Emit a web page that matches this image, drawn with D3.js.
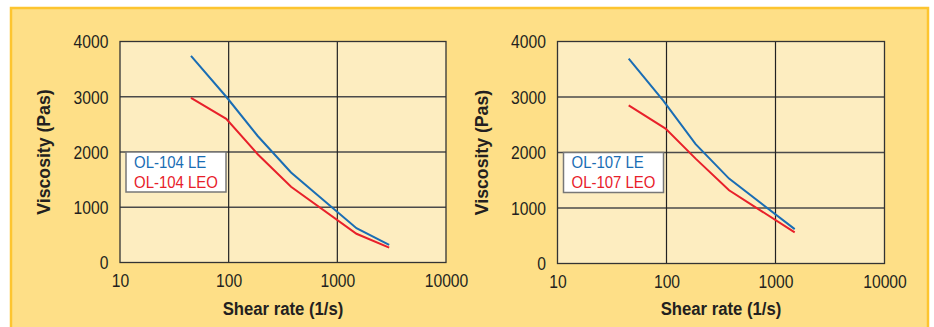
<!DOCTYPE html>
<html>
<head>
<meta charset="utf-8">
<script src="https://cdn.jsdelivr.net/npm/d3@7"></script>
<style>
  body { margin: 0; background: #fff; }
  svg text { font-family: "Liberation Sans", Arial, sans-serif; fill: #231f20; }
</style>
</head>
<body>
<div id="chart"></div>
<script>
// shear rate ticks and viscosity ticks
const xTicks = [10, 100, 1000, 10000];
const yTicks = [0, 1000, 2000, 3000, 4000];

// OL-104 (left panel): [shear rate, viscosity]
const ol104LE  = [[45, 3740], [95, 3000], [185, 2290], [375, 1630], [1500, 620], [3000, 320]];
const ol104LEO = [[45, 2980], [95, 2600], [185, 1960], [375, 1370], [1500, 520], [3000, 270]];

// OL-107 (right panel)
const ol107LE  = [[45, 3690], [93, 2940], [185, 2150], [375, 1530], [1500, 620]];
const ol107LEO = [[45, 2850], [98, 2430], [185, 1890], [375, 1320], [1500, 560]];

// the original type is a condensed face, squeeze the sans a bit
const squeeze = 0.87;

const svg = d3.select("#chart").append("svg")
    .attr("width", 934)
    .attr("height", 327);

// outer yellow panel
svg.append("rect")
    .attr("x", 11).attr("y", 8)
    .attr("width", 917).attr("height", 340)
    .attr("fill", "#fedf87")
    .attr("stroke", "#fdc530")
    .attr("stroke-width", 2.5);

function drawPanel(x0, x1, y0, y1, series, names) {
    const x = d3.scaleLog().domain([10, 10000]).range([x0, x1]);
    const y = d3.scaleLinear().domain([0, 4000]).range([y1, y0]);

    const g = svg.append("g");

    // plot background
    g.append("rect")
        .attr("x", x0).attr("y", y0)
        .attr("width", x1 - x0).attr("height", y1 - y0)
        .attr("fill", "#fdedc0");

    // grid lines
    g.selectAll(".hgrid")
        .data(yTicks.slice(1, -1))
        .enter().append("line")
        .attr("x1", x0).attr("x2", x1)
        .attr("y1", d => y(d)).attr("y2", d => y(d))
        .attr("stroke", "#4a4a4a")
        .attr("stroke-width", 1.4);
    g.selectAll(".vgrid")
        .data(xTicks.slice(1, -1))
        .enter().append("line")
        .attr("x1", d => x(d)).attr("x2", d => x(d))
        .attr("y1", y0).attr("y2", y1)
        .attr("stroke", "#222")
        .attr("stroke-width", 1.2);

    // frame
    g.append("rect")
        .attr("x", x0).attr("y", y0)
        .attr("width", x1 - x0).attr("height", y1 - y0)
        .attr("fill", "none")
        .attr("stroke", "#333")
        .attr("stroke-width", 1.3);

    // axes (labels only)
    const xAxis = g.append("g")
        .attr("transform", `translate(0,${y1 + 8.5})`)
        .call(d3.axisBottom(x).tickValues(xTicks).tickFormat(d3.format("d")).tickSize(0));
    xAxis.select(".domain").remove();
    xAxis.selectAll("text")
        .style("font-size", "18px")
        .attr("fill", "#231f20")
        .attr("transform", `scale(${squeeze},1)`);

    const yAxis = g.append("g")
        .attr("transform", `translate(${x0 - 9},0)`)
        .call(d3.axisLeft(y).tickValues(yTicks).tickFormat(d3.format("d")).tickSize(0));
    yAxis.select(".domain").remove();
    yAxis.selectAll("text")
        .style("font-size", "18px")
        .attr("fill", "#231f20")
        .attr("dy", "0.36em")
        .attr("transform", `scale(${squeeze},1)`);

    // axis titles
    g.append("g")
        .attr("transform", `translate(${(x0 + x1) / 2},315)`)
        .append("text")
        .attr("transform", "scale(0.88,1)")
        .attr("text-anchor", "middle")
        .style("font-size", "19px")
        .style("font-weight", "bold")
        .text("Shear rate (1/s)");
    g.append("g")
        .attr("transform", `translate(${x0 - 70},${(y0 + y1) / 2}) rotate(-90)`)
        .append("text")
        .attr("transform", "scale(0.93,1)")
        .attr("text-anchor", "middle")
        .style("font-size", "19px")
        .style("font-weight", "bold")
        .text("Viscosity (Pas)");

    // lines
    const line = d3.line().x(d => x(d[0])).y(d => y(d[1]));
    const colors = ["#1a6db4", "#e8202a"];
    series.forEach((s, i) => {
        g.append("path")
            .datum(s)
            .attr("d", line)
            .attr("fill", "none")
            .attr("stroke", colors[i])
            .attr("stroke-width", 2);
    });

    // legend
    const lx = x0 + 6, ly = y(2000);
    g.append("rect")
        .attr("x", lx).attr("y", ly)
        .attr("width", 100).attr("height", 40)
        .attr("fill", "#fff")
        .attr("stroke", "#777")
        .attr("stroke-width", 1.5);
    names.forEach((n, i) => {
        g.append("g")
            .attr("transform", `translate(${lx + 8},${ly + 15.5 + i * 20})`)
            .append("text")
            .attr("transform", "scale(0.88,1)")
            .style("font-size", "17px")
            .style("fill", colors[i])
            .text(n);
    });
}

drawPanel(120, 446, 41.5, 262.5, [ol104LE, ol104LEO], ["OL-104 LE", "OL-104 LEO"]);
drawPanel(557.5, 884.5, 41.5, 263.5, [ol107LE, ol107LEO], ["OL-107 LE", "OL-107 LEO"]);
</script>
</body>
</html>
